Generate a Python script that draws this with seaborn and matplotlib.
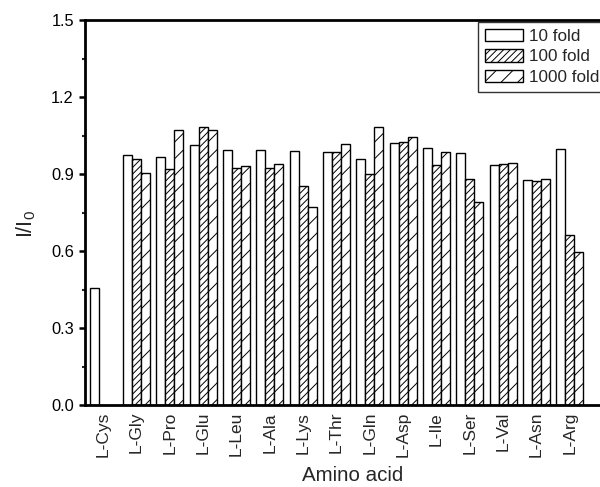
import numpy as np
import pandas as pd
import matplotlib
matplotlib.use("Agg")
import matplotlib.pyplot as plt
from matplotlib.patches import Patch
import seaborn as sns

amino_acids = ["L-Cys", "L-Gly", "L-Pro", "L-Glu", "L-Leu", "L-Ala", "L-Lys", "L-Thr",
               "L-Gln", "L-Asp", "L-Ile", "L-Ser", "L-Val", "L-Asn", "L-Arg"]
fold_10 = [0.455, 0.974, 0.966, 1.013, 0.995, 0.995, 0.988, 0.986,
           0.958, 1.019, 1.001, 0.980, 0.934, 0.875, 0.999]
fold_100 = [np.nan, 0.958, 0.918, 1.083, 0.925, 0.925, 0.855, 0.986,
            0.900, 1.023, 0.936, 0.880, 0.938, 0.873, 0.661]
fold_1000 = [np.nan, 0.903, 1.073, 1.073, 0.932, 0.940, 0.770, 1.018,
             1.082, 1.045, 0.986, 0.790, 0.944, 0.879, 0.596]
series_names = ["10 fold", "100 fold", "1000 fold"]
hatches = ["", "/////", "//"]

df = pd.DataFrame({
    "Amino acid": amino_acids * 3,
    "value": fold_10 + fold_100 + fold_1000,
    "series": [s for s in series_names for _ in amino_acids],
})

sns.set_style("ticks")
plt.rcParams["font.family"] = ["Liberation Sans", "DejaVu Sans"]
plt.rcParams["hatch.linewidth"] = 0.7
plt.rcParams["mathtext.fontset"] = "custom"
plt.rcParams["mathtext.rm"] = "Liberation Sans"
plt.rcParams["mathtext.it"] = "Liberation Sans"

W, H = 600, 487
fig = plt.figure(figsize=(W / 100, H / 100), dpi=100)
ax_left, ax_right, ax_top, ax_bottom = 85, 620, 20, 405
ax = fig.add_axes([ax_left / W, (H - ax_bottom) / H, (ax_right - ax_left) / W,
                   (ax_bottom - ax_top) / H])

sns.barplot(data=df, x="Amino acid", y="value", hue="series", order=amino_acids,
            hue_order=series_names, palette=["white"] * 3, width=0.81,
            edgecolor="black", linewidth=1.0, legend=False, ax=ax)

for cont, h in zip(ax.containers, hatches):
    for p in cont.patches:
        p.set_hatch(h)
        p.set_facecolor("white")
        p.set_edgecolor("black")

ax.set_xlim(-0.54, 15.5)
ax.set_ylim(0, 1.5)
yt = np.arange(0, 1.51, 0.3)
ax.set_yticks(yt)
ax.set_yticklabels([f"{v:.1f}" for v in yt])
ax.set_yticks(np.arange(0.15, 1.5, 0.3), minor=True)
ax.tick_params(axis="y", which="major", direction="out", length=4.5, width=1.8,
               labelsize=11.8, pad=3.5, colors="black")
ax.tick_params(axis="y", which="minor", direction="out", length=2.2, width=1.5)
ax.tick_params(axis="x", length=0, labelsize=12.5, pad=5)
for lbl in ax.get_xticklabels():
    lbl.set_rotation(90)

for s in ["left", "bottom", "top", "right"]:
    ax.spines[s].set_linewidth(2.0)
    ax.spines[s].set_color("black")

ax.set_xlabel("Amino acid", fontsize=14.8, labelpad=6)
ax.set_ylabel("I/I$_\\mathregular{0}$", fontsize=15.5)
ax.yaxis.set_label_coords((38 - ax_left) / (ax_right - ax_left), 0.47)

handles = [Patch(facecolor="white", edgecolor="black", hatch=h, linewidth=1.0, label=n)
           for h, n in zip(hatches, series_names)]
leg = ax.legend(handles=handles, loc="upper right", fontsize=12.3, frameon=True,
                fancybox=False, edgecolor="black", handlelength=2.2, handleheight=0.76,
                bbox_to_anchor=(606 / W, 1 - 22 / H), bbox_transform=fig.transFigure,
                borderaxespad=0, borderpad=0.4, labelspacing=0.3, handletextpad=0.35)
leg.get_frame().set_linewidth(1.0)

fig.savefig("out.png", dpi=100)
